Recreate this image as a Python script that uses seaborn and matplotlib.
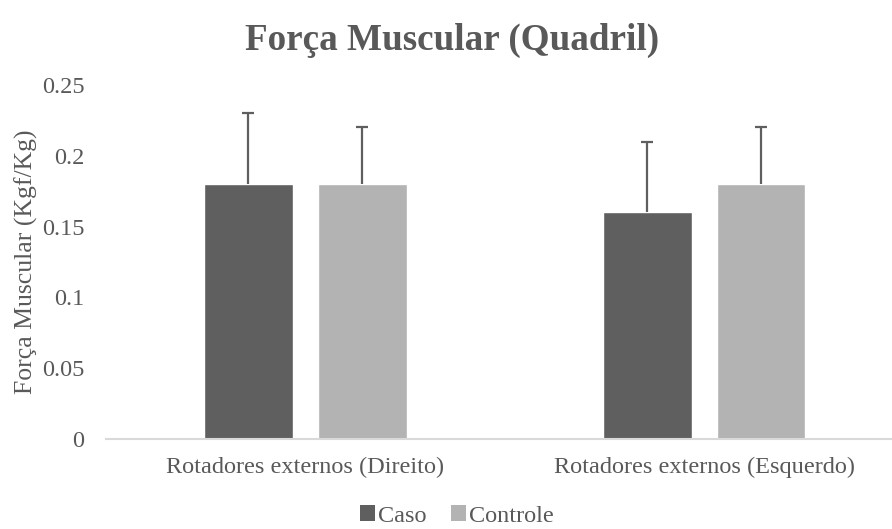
import matplotlib
matplotlib.use("Agg")
import matplotlib.pyplot as plt
import seaborn as sns
import pandas as pd
from matplotlib.patches import Patch

categories = ["Rotadores externos (Direito)", "Rotadores externos (Esquerdo)"]
groups = ["Caso", "Controle"]
caso_vals = [0.18, 0.16]
controle_vals = [0.18, 0.18]
caso_err = [0.05, 0.05]
controle_err = [0.04, 0.04]
yticks = [0, 0.05, 0.1, 0.15, 0.2, 0.25]
ytick_labels = ["0", "0.05", "0.1", "0.15", "0.2", "0.25"]

colors = {"Caso": "#5f5f5f", "Controle": "#b3b3b3"}
text_color = "#595959"

df = pd.DataFrame({
    "cat": categories * 2,
    "grupo": ["Caso"] * 2 + ["Controle"] * 2,
    "val": caso_vals + controle_vals,
    "err": caso_err + controle_err,
})

sns.set_style("white")
plt.rcParams["font.family"] = ["Liberation Serif", "DejaVu Serif"]

fig = plt.figure(figsize=(8.92, 5.29), dpi=100)
ax = fig.add_axes([106 / 892, (529 - 439) / 529, (892 - 106) / 892, (439 - 85) / 529])

sns.barplot(data=df, x="cat", y="val", hue="grupo", hue_order=groups,
            palette=colors, errorbar=None, width=0.571, gap=0.22,
            saturation=1, ax=ax, legend=False)

# one-sided (upper) error bars placed from the bars' own positions
cap_half = 6 / 399
for container, g in zip(ax.containers, groups):
    sub = df[df["grupo"] == g]
    for bar, v, e in zip(container.patches, sub["val"], sub["err"]):
        xc = bar.get_x() + bar.get_width() / 2
        ax.vlines(xc, v, v + e, color="#5f5f5f", linewidth=1.6, zorder=3)
        ax.hlines(v + e, xc - cap_half, xc + cap_half, color="#5f5f5f",
                  linewidth=1.6, zorder=3)

ax.set_xlim(-0.5, 1 + (892 - 704) / 399)
ax.set_ylim(0, 0.25)
ax.set_yticks(yticks)
ax.set_yticklabels(ytick_labels)
for s in ["top", "right", "left"]:
    ax.spines[s].set_visible(False)
ax.spines["bottom"].set_color("#d9d9d9")
ax.spines["bottom"].set_linewidth(1.5)
ax.tick_params(axis="both", length=0, colors=text_color, labelsize=17.5)
ax.tick_params(axis="x", pad=13)
ax.tick_params(axis="y", pad=15.5)
ax.set_xlabel("")
ax.set_ylabel("Força Muscular (Kgf/Kg)", color=text_color, fontsize=18.5)
ax.yaxis.set_label_coords(-0.087, 0.5)

fig.text(452 / 892, 1 - 40 / 529, "Força Muscular (Quadril)", ha="center", va="center",
         fontsize=26.7, fontweight="bold", color=text_color)

handles = [Patch(facecolor=colors[g], edgecolor="none") for g in groups]
fig.legend(handles, groups, loc="center", bbox_to_anchor=(457 / 892, 1 - 516 / 529),
           ncol=2, frameon=False, fontsize=17.5, labelcolor=text_color,
           handlelength=0.6, handleheight=0.6, handletextpad=0.15, columnspacing=1.0)

fig.savefig("out.png", dpi=100)
